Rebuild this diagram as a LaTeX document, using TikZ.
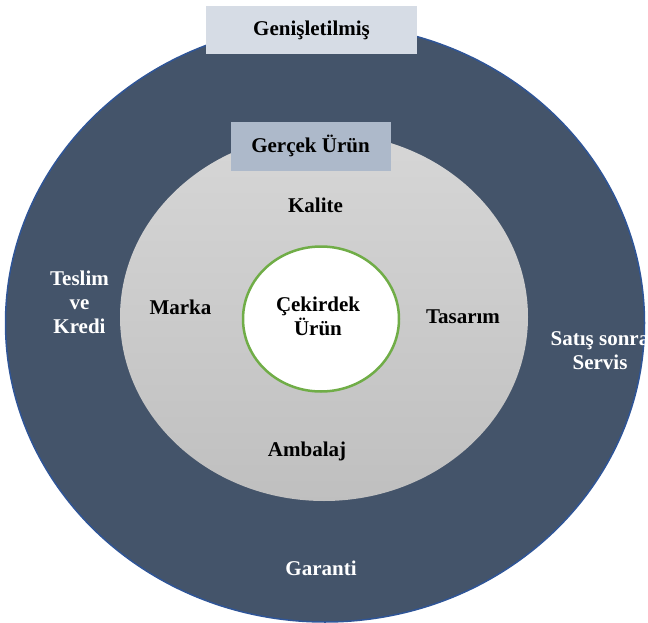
\documentclass[tikz,border=0pt]{standalone}
\usepackage{fontspec}
\setmainfont{Liberation Serif}
\usetikzlibrary{shapes.geometric}
\definecolor{ringblue}{HTML}{44546A}
\definecolor{ringedge}{HTML}{2F5597}
\definecolor{extbox}{HTML}{D6DCE5}
\definecolor{realbox}{HTML}{ADB9CA}
\definecolor{coregreen}{HTML}{70AD47}

\begin{document}
\begin{tikzpicture}[x=1pt,y=-1pt,
  ring/.style = {ellipse,inner sep=0pt},
  txt/.style = {font=\bfseries\fontsize{21}{24}\selectfont,inner sep=0pt,anchor=base,align=center},
  light/.style = {txt,text=white},
  tag/.style = {txt,anchor=center,text height=15pt,text depth=3pt}]
        \useasboundingbox (0,0) rectangle (648,623);

        % rings
        \node[ring,draw=ringedge,line width=1.5pt,fill=ringblue,minimum width=639pt,minimum height=598pt] (outer) at (325,323) {};
        \node[tag,fill=extbox,minimum width=211pt,minimum height=48pt] (ext) at (311.5,30) {Genişletilmiş};
        \node[ring,top color=black!16,bottom color=black!25,minimum width=408pt,minimum height=368pt] (real) at (324,317) {};
        \node[tag,fill=realbox,minimum width=160pt,minimum height=49pt] (realtag) at (310.5,147) {Gerçek Ürün};
        \node[ring,draw=coregreen,line width=2.5pt,fill=white,minimum width=156pt,minimum height=145pt] (core) at (321,319) {};

        % labels (multi-line ones sit on their last line)
        \node[txt] (core1) at (318,335) {Çekirdek\\Ürün};
        \node[txt] (kalite) at (315.5,212.5) {Kalite};
        \node[txt] (marka) at (180.5,314) {Marka};
        \node[txt] (tasarim) at (463,323) {Tasarım};
        \node[txt] (ambalaj) at (307,456) {Ambalaj};
        \node[light] (teslim) at (79.5,333) {Teslim\\ve\\Kredi};
        \node[light] (servis) at (600,369.5) {Satış sonra\\Servis};
        \node[light] (garanti) at (321,575) {Garanti};
    \end{tikzpicture}
\end{document}
